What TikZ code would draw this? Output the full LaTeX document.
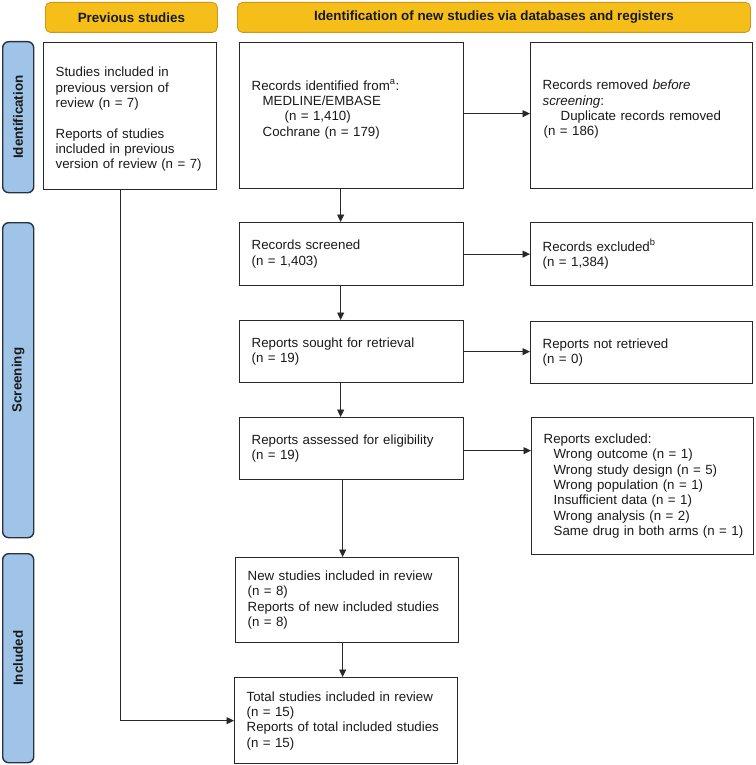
\documentclass[tikz,border=0pt]{standalone}
\usepackage{fontspec}
\setmainfont{Liberation Sans}
\usetikzlibrary{arrows.meta}
\definecolor{hdrfill}{RGB}{245,190,25}
\definecolor{hdrdraw}{RGB}{205,150,30}
\definecolor{barfill}{RGB}{160,196,232}
\definecolor{bardraw}{RGB}{40,50,65}
\definecolor{txtcol}{RGB}{25,25,25}
\definecolor{linecol}{RGB}{40,40,40}
\begin{document}
\begin{tikzpicture}[x=1pt,y=-1pt,
  every node/.style={font=\fontsize{13.3}{15.3}\selectfont, text=txtcol},
  box/.style={draw=linecol, line width=1.3pt, rectangle, anchor=north west, align=left, inner xsep=12pt, inner ysep=0pt},
  hdr/.style={draw=hdrdraw, fill=hdrfill, rounded corners=5pt, line width=0.8pt, anchor=north west, font=\fontsize{13.4}{15}\selectfont\bfseries, inner sep=0pt},
  bar/.style={draw=bardraw, fill=barfill, rounded corners=6pt, line width=1.4pt, anchor=north west, inner sep=0pt},
  barlbl/.style={rotate=90, font=\fontsize{13.4}{15}\selectfont\bfseries, inner sep=0pt},
  arr/.style={draw=linecol, line width=0.9pt, -{Triangle[length=7.5pt,width=7pt]}},
]
\useasboundingbox (0,0) rectangle (755,765);

% headers
\node[hdr, minimum width=172pt, minimum height=30pt] (hprev) at (45,2) {Previous studies};
\node[hdr, minimum width=513pt, minimum height=30pt] (hid) at (237,2) {Identification of new studies via databases and registers};

% phase bars
\node[bar, minimum width=31pt, minimum height=151pt] (bid) at (2,41) {};
\node[bar, minimum width=31pt, minimum height=315pt] (bscr) at (2,222) {};
\node[bar, minimum width=31pt, minimum height=209pt] (binc) at (2,553) {};
\node[barlbl] (lid) at (bid.center) {Identification};
\node[barlbl] (lscr) at (bscr.center) {Screening};
\node[barlbl] (linc) at (binc.center) {Included};

% boxes
\node[box, minimum width=173pt, minimum height=147pt, text width=149pt] (prev) at (43,42)
  {\rule{0pt}{16pt}Studies included in\\previous version of\\review (n = 7)\\\mbox{}\\Reports of studies\\included in previous\\\mbox{version of review (n = 7)}};
\node[box, minimum width=224pt, minimum height=146pt, text width=200pt] (rec) at (239,42)
  {Records identified from\textsuperscript{a}:\\\hspace*{11pt}MEDLINE/EMBASE\\\hspace*{33pt}(n = 1,410)\\\hspace*{11pt}Cochrane (n = 179)\\\mbox{}};
\node[box, minimum width=222pt, minimum height=146pt, text width=198pt] (rem) at (530,42)
  {Records removed \textit{before}\\\textit{screening}:\\\hspace*{18pt}Duplicate records removed\\\hspace*{1pt}(n = 186)\\\mbox{}};
\node[box, minimum width=224pt, minimum height=63pt, text width=200pt] (scr) at (239,222)
  {Records screened\\(n = 1,403)};
\node[box, minimum width=222pt, minimum height=63pt, text width=198pt] (exc) at (530,222)
  {Records excluded\textsuperscript{b}\\(n = 1,384)};
\node[box, minimum width=224pt, minimum height=62pt, text width=200pt] (sou) at (239,320)
  {Reports sought for retrieval\\(n = 19)};
\node[box, minimum width=222pt, minimum height=62pt, text width=198pt] (nre) at (530,321)
  {Reports not retrieved\\(n = 0)};
\node[box, minimum width=224pt, minimum height=62pt, text width=200pt] (asse) at (239,417)
  {Reports assessed for eligibility\\(n = 19)};
\node[box, minimum width=222pt, minimum height=137pt, text width=198pt] (exc2) at (531,417)
  {Reports excluded:\\\hspace*{10pt}\mbox{Wrong outcome (n = 1)}\\\hspace*{10pt}\mbox{Wrong study design (n = 5)}\\\hspace*{10pt}\mbox{Wrong population (n = 1)}\\\hspace*{10pt}\mbox{Insufficient data (n = 1)}\\\hspace*{10pt}\mbox{Wrong analysis (n = 2)}\\\hspace*{10pt}\mbox{Same drug in both arms (n = 1)}};
\node[box, minimum width=223pt, minimum height=85pt, text width=199pt] (new) at (235,557)
  {New studies included in review\\(n = 8)\\Reports of new included studies\\(n = 8)};
\node[box, minimum width=223pt, minimum height=86pt, text width=199pt] (tot) at (234,677)
  {Total studies included in review\\(n = 15)\\Reports of total included studies\\(n = 15)};

% connectors
\draw[arr] ([xshift=-11pt]rec.south) -- ([xshift=-11pt]rec.south |- scr.north);
\draw[arr] ([xshift=-11pt]scr.south) -- ([xshift=-11pt]scr.south |- sou.north);
\draw[arr] ([xshift=-11pt]sou.south) -- ([xshift=-11pt]sou.south |- asse.north);
\draw[arr] ([xshift=-9pt]asse.south) -- ([xshift=-9pt]asse.south |- new.north);
\draw[arr] ([xshift=-4.5pt]new.south) -- ([xshift=-4.5pt]new.south |- tot.north);
\draw[arr] ([yshift=2pt]rec.east) -- ([yshift=2pt]rec.east -| rem.west);
\draw[arr] (scr.east) -- (scr.east -| exc.west);
\draw[arr] (sou.east) -- (sou.east -| nre.west);
\draw[arr] ([yshift=-2pt]asse.east) -- ([yshift=-2pt]asse.east -| exc2.west);
\draw[arr] ([xshift=-9.5pt]prev.south) |- (tot.west);
\end{tikzpicture}
\end{document}
